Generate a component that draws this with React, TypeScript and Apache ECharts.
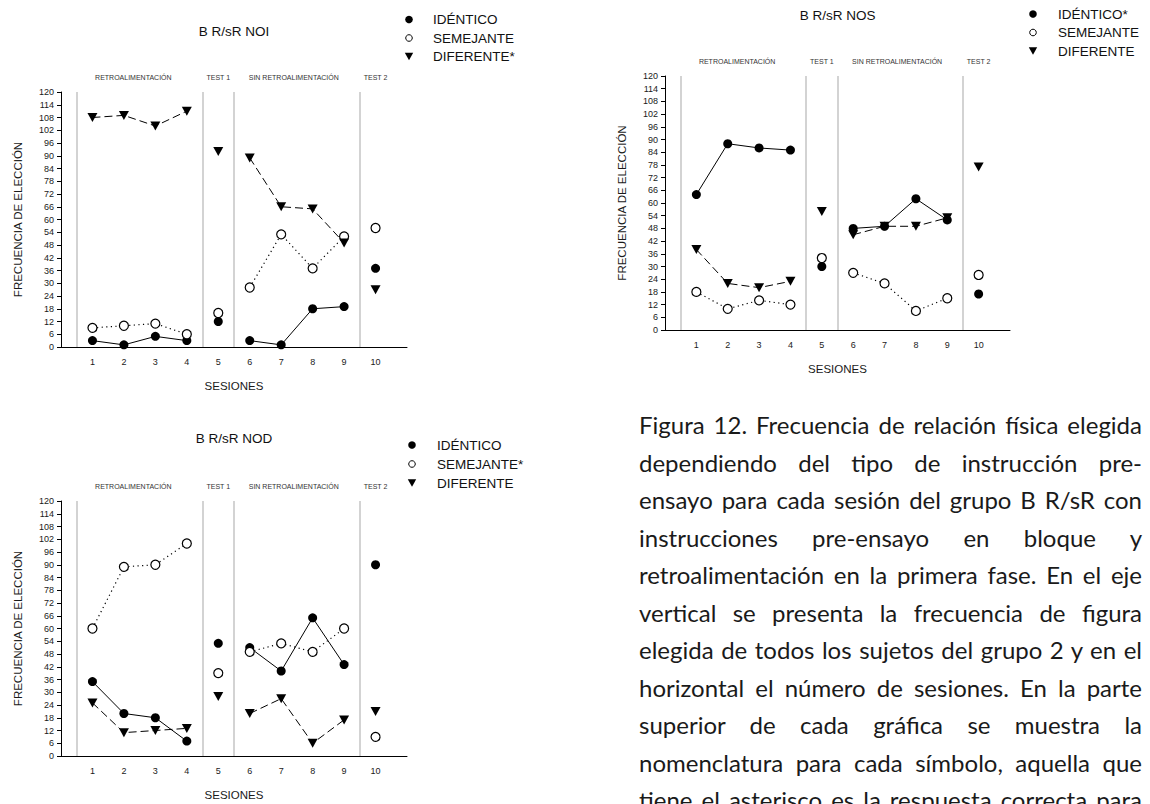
import React, { useEffect, useRef } from "react";
import * as echarts from "echarts";

const FONT = "Liberation Sans, Arial, Helvetica, sans-serif";

// Sessions on the horizontal axis
const sessions = [1, 2, 3, 4, 5, 6, 7, 8, 9, 10];

// Experimental phases: header texts, where they sit on the session axis, and the dividers
const phaseNames = ["RETROALIMENTACIÓN", "TEST 1", "SIN RETROALIMENTACIÓN", "TEST 2"];
const phaseLabelAt = [2.3, 5, 7.4, 10];
const phaseBreaks = [0.5, 4.5, 5.5, 9.5];

const relationNames = ["IDÉNTICO", "SEMEJANTE", "DIFERENTE"];

// B R/sR NOI
const noiIdentico = [3, 1, 5, 3, 12, 3, 1, 18, 19, 37];
const noiSemejante = [9, 10, 11, 6, 16, 28, 53, 37, 52, 56];
const noiDiferente = [108, 109, 104, 111, 92, 89, 66, 65, 49, 27];

// B R/sR NOS
const nosIdentico = [64, 88, 86, 85, 30, 48, 49, 62, 52, 17];
const nosSemejante = [18, 10, 14, 12, 34, 27, 22, 9, 15, 26];
const nosDiferente = [38, 22, 20, 23, 56, 45, 49, 49, 53, 77];

// B R/sR NOD
const nodIdentico = [35, 20, 18, 7, 53, 51, 40, 65, 43, 90];
const nodSemejante = [60, 89, 90, 100, 39, 49, 53, 49, 60, 9];
const nodDiferente = [25, 11, 12, 13, 28, 20, 27, 6, 17, 21];

const panelTitles = ["B R/sR NOI", "B R/sR NOS", "B R/sR NOD"];
// index of the correct relation (marked with an asterisk) in each panel
const correctRelation = [2, 0, 1];
const panelValues = [
  [noiIdentico, noiSemejante, noiDiferente],
  [nosIdentico, nosSemejante, nosDiferente],
  [nodIdentico, nodSemejante, nodDiferente],
];

const captionLines = [
  "Figura 12. Frecuencia de relación física elegida",
  "dependiendo del tipo de instrucción pre-",
  "ensayo para cada sesión del grupo B R/sR con",
  "instrucciones pre-ensayo en bloque y",
  "retroalimentación en la primera fase. En el eje",
  "vertical se presenta la frecuencia de figura",
  "elegida de todos los sujetos del grupo 2 y en el",
  "horizontal el número de sesiones. En la parte",
  "superior de cada gráfica se muestra la",
  "nomenclatura para cada símbolo, aquella que",
  "tiene el asterisco es la respuesta correcta para",
];

// Page layout of the three panels
const panelLayouts = [
  { left: 61, top: 92, width: 346, height: 255, titleY: 31, legendX: 409, legendTextX: 433, legendRows: [19.5, 38, 56.5] },
  { left: 665, top: 76, width: 345, height: 254, titleY: 15, legendX: 1033, legendTextX: 1058, legendRows: [14, 32.5, 51] },
  { left: 61, top: 501, width: 346, height: 255, titleY: 438, legendX: 412, legendTextX: 437, legendRows: [445, 464, 483] },
];

const relationStyles: any[] = [
  {
    symbol: "circle",
    symbolSize: 9,
    itemStyle: { color: "#000" },
    lineStyle: { color: "#000", width: 1, type: "solid" },
  },
  {
    symbol: "circle",
    symbolSize: 9,
    itemStyle: { color: "#fff", borderColor: "#000", borderWidth: 1.2 },
    lineStyle: { color: "#000", width: 1.2, type: [1.2, 3.4] },
  },
  {
    symbol: "triangle",
    symbolRotate: 180,
    symbolSize: [10, 9],
    itemStyle: { color: "#000" },
    lineStyle: { color: "#000", width: 1, type: [8, 4] },
  },
];

// Sessions within one phase are joined; a gap point at each phase break splits the line
function withGaps(values: number[]) {
  const out: any[] = [];
  sessions.forEach((s, i) => {
    out.push([s, values[i]]);
    const gap = phaseBreaks.find((b) => b > s && b < s + 1);
    if (gap !== undefined && i < sessions.length - 1) out.push([gap, "-"]);
  });
  return out;
}

function relationLabel(panel: number, k: number) {
  return relationNames[k] + (correctRelation[panel] === k ? "*" : "");
}

export default function App() {
  const ref = useRef<HTMLDivElement>(null);

  useEffect(() => {
    const el = ref.current;
    if (!el) return;
    const chart = echarts.init(el, null, { renderer: "svg" });

    const grid = panelLayouts.map((l) => ({
      left: l.left,
      top: l.top,
      width: l.width,
      height: l.height,
      containLabel: false,
    }));

    const xAxis = panelLayouts.map((_, i) => ({
      gridIndex: i,
      type: "value",
      min: 0,
      max: 11,
      interval: 1,
      name: "SESIONES",
      nameLocation: "middle",
      nameGap: 33,
      nameTextStyle: { fontSize: 11.5, color: "#1a1a1a", fontFamily: FONT, fontWeight: "normal" },
      axisLine: { lineStyle: { color: "#000", width: 1 } },
      axisTick: { show: false },
      splitLine: { show: false },
      axisLabel: {
        fontSize: 9,
        color: "#1a1a1a",
        fontFamily: FONT,
        margin: 10,
        formatter: (v: number) => (sessions.includes(v) ? String(v) : ""),
      },
    }));

    const yAxis = panelLayouts.map((_, i) => ({
      gridIndex: i,
      type: "value",
      min: 0,
      max: 120,
      interval: 6,
      name: "FRECUENCIA DE ELECCIÓN",
      nameLocation: "middle",
      nameGap: 37,
      nameTextStyle: { fontSize: 11.5, color: "#1a1a1a", fontFamily: FONT, fontWeight: "normal" },
      axisLine: { show: true, lineStyle: { color: "#000", width: 1 } },
      axisTick: { show: true, length: 4, lineStyle: { color: "#000" } },
      splitLine: { show: false },
      axisLabel: { fontSize: 9, color: "#1a1a1a", fontFamily: FONT, margin: 7 },
    }));

    const series: any[] = [];
    panelValues.forEach((values, gi) => {
      values.forEach((vals, k) => {
        series.push({
          type: "line",
          name: relationLabel(gi, k),
          xAxisIndex: gi,
          yAxisIndex: gi,
          data: withGaps(vals),
          connectNulls: false,
          showSymbol: true,
          z: 3 + k,
          ...relationStyles[k],
          markLine:
            k === 0
              ? {
                  silent: true,
                  symbol: "none",
                  label: { show: false },
                  z: 1,
                  lineStyle: { color: "#c4c4c4", width: 1.5, type: "solid" },
                  data: phaseBreaks.map((b) => ({ xAxis: b })),
                }
              : undefined,
        });
      });
    });

    chart.setOption({
      animation: false,
      backgroundColor: "#fff",
      textStyle: { fontFamily: FONT },
      grid,
      xAxis,
      yAxis,
      series,
    });

    const graphic: any[] = [];
    panelLayouts.forEach((l, gi) => {
      // panel title
      graphic.push({
        type: "text",
        x: l.left + l.width / 2,
        y: l.titleY,
        style: {
          text: panelTitles[gi],
          fontSize: 13.5,
          fontFamily: FONT,
          fill: "#111",
          align: "center",
          verticalAlign: "middle",
        },
      });
      // phase headers above the plot area
      const topPx = chart.convertToPixel({ yAxisIndex: gi } as any, 120) as number;
      phaseNames.forEach((name, k) => {
        const px = chart.convertToPixel({ xAxisIndex: gi } as any, phaseLabelAt[k]) as number;
        graphic.push({
          type: "text",
          x: px,
          y: topPx - 15,
          style: {
            text: name,
            fontSize: 7,
            fontFamily: FONT,
            fill: "#333",
            align: "center",
            verticalAlign: "middle",
          },
        });
      });
      // legend
      l.legendRows.forEach((cy, k) => {
        const cx = l.legendX;
        if (k === 0) {
          graphic.push({ type: "circle", shape: { cx, cy, r: 3.8 }, style: { fill: "#000" } });
        } else if (k === 1) {
          graphic.push({
            type: "circle",
            shape: { cx, cy, r: 3.3 },
            style: { fill: "#fff", stroke: "#000", lineWidth: 1 },
          });
        } else {
          graphic.push({
            type: "polygon",
            shape: { points: [[cx - 4.2, cy - 3.8], [cx + 4.2, cy - 3.8], [cx, cy + 3.8]] },
            style: { fill: "#000" },
          });
        }
        graphic.push({
          type: "text",
          x: l.legendTextX,
          y: cy,
          style: {
            text: relationLabel(gi, k),
            fontSize: 13.5,
            fontFamily: FONT,
            fill: "#111",
            align: "left",
            verticalAlign: "middle",
          },
        });
      });
    });

    chart.setOption({ graphic });

    return () => {
      chart.dispose();
    };
  }, []);

  return (
    <div
      style={{
        position: "absolute",
        left: 0,
        top: 0,
        width: 1150,
        height: 804,
        overflow: "hidden",
        background: "#fff",
      }}
    >
      <div ref={ref} style={{ position: "absolute", left: 0, top: 0, width: 1150, height: 804 }} />
      <div
        style={{
          position: "absolute",
          left: 639,
          top: 406,
          width: 503,
          fontFamily: "Lato, 'Open Sans', sans-serif",
          fontSize: 24,
          color: "#1a1a1a",
        }}
      >
        {captionLines.map((t, i) => (
          <div
            key={i}
            style={{
              height: 37.5,
              lineHeight: "37.5px",
              textAlign: "justify",
              textAlignLast: "justify",
            }}
          >
            {t}
          </div>
        ))}
      </div>
    </div>
  );
}
